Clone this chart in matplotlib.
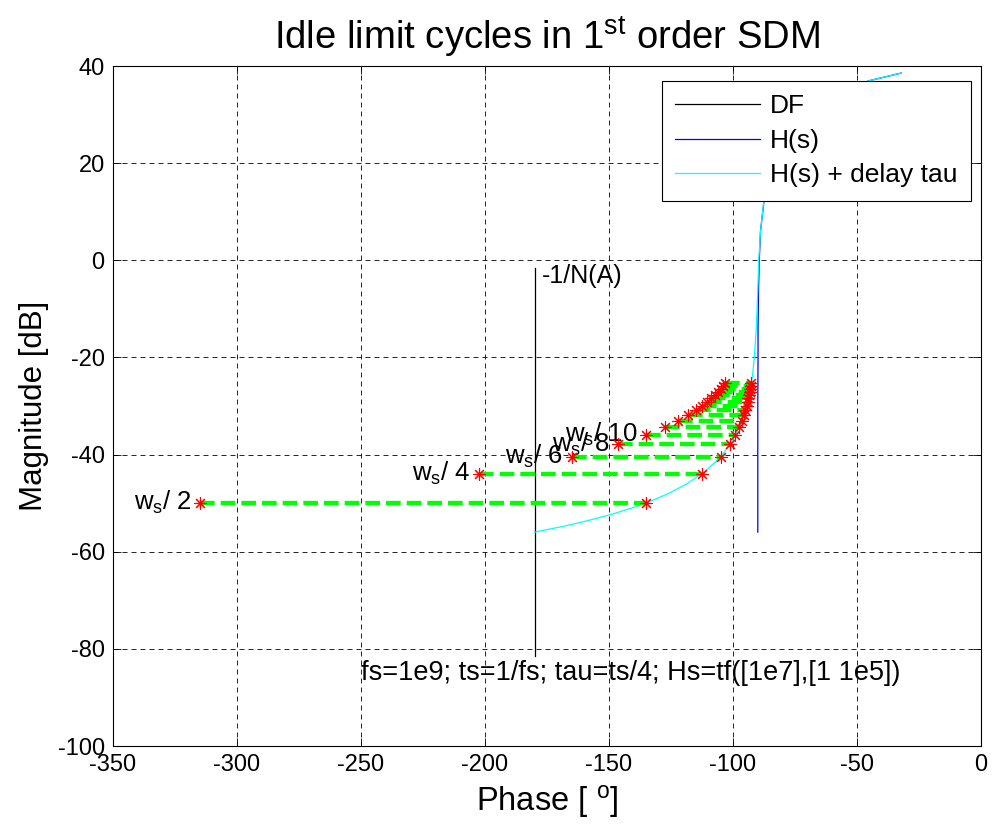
# | Imports |-------------------------------------------------------------------------------------|
import matplotlib
matplotlib.use("Agg")
import matplotlib.pyplot as plt
from matplotlib.axes import Axes
from matplotlib.figure import Figure

# | Fonts |---------------------------------------------------------------------------------------|
plt.rcParams["font.family"] = ["Liberation Sans", "DejaVu Sans"]
plt.rcParams["mathtext.fontset"] = "custom"
plt.rcParams["mathtext.rm"] = "Liberation Sans"
plt.rcParams["mathtext.it"] = "Liberation Sans"
plt.rcParams["mathtext.bf"] = "Liberation Sans:bold"
plt.rcParams["axes.unicode_minus"] = False

# | Data |----------------------------------------------------------------------------------------|
# H(s) = 1e7 / (s + 1e5)  -> (phase [deg], magnitude [dB])
hs_phase: list[float] = [-32.2, -45.0, -56.3, -63.4, -71.6, -78.7, -84.3, -87.1, -88.9,
                         -89.4, -89.7, -89.9, -89.9, -90.0, -90.0, -90.0]
hs_mag: list[float] = [38.55, 36.99, 34.88, 33.01, 30.0, 25.85, 19.96, 13.97, 6.02,
                       0.0, -6.02, -13.98, -20.0, -30.0, -45.0, -55.96]

# H(s) + delay tau
hd_phase: list[float] = [-32.2, -45.0, -56.3, -63.4, -71.6, -78.7, -84.3, -87.2, -88.9, -89.6,
                         -90.0, -90.6, -91.4, -92.1, -92.8, -94.3, -95.7, -97.2, -100.0, -102.2,
                         -104.3, -107.2, -111.5, -118.6, -125.8, -133.0, -140.1, -147.3, -154.5,
                         -161.6, -168.8, -180.0]
hd_mag: list[float] = [38.55, 36.99, 34.88, 33.01, 30.0, 25.85, 19.96, 13.97, 6.02, 0.0,
                       -6.02, -13.98, -20.0, -23.52, -26.02, -29.54, -32.04, -33.98, -36.90, -38.59,
                       -40.0, -41.58, -43.52, -46.02, -47.96, -49.54, -50.88, -52.04, -53.06,
                       -53.98, -54.81, -55.96]

# describing function -1/N(A)
df_phase: list[float] = [-180.0, -180.0]
df_mag: list[float] = [-1.5, -81.5]

# limit cycle candidates at ws/N
cycle_n: list[int] = [2, 4, 6, 8, 10, 12, 14, 16, 18, 20, 22, 24, 26, 28, 30, 32, 34]
cycle_left: list[float] = [-315.0, -202.5, -165.0, -146.25, -135.0, -127.5, -122.14, -118.13, -115.0,
                           -112.5, -110.45, -108.75, -107.31, -106.07, -105.0, -104.06, -103.24]
cycle_right: list[float] = [-135.0, -112.5, -105.0, -101.25, -99.0, -97.5, -96.43, -95.63, -95.0,
                            -94.5, -94.09, -93.75, -93.46, -93.21, -93.0, -92.81, -92.65]
cycle_mag: list[float] = [-49.94, -43.92, -40.40, -37.90, -35.96, -34.38, -33.04, -31.88, -30.85,
                          -29.94, -29.11, -28.36, -27.66, -27.02, -26.42, -25.86, -25.33]
label_n: list[int] = [2, 4, 6, 8, 10]

x_ticks: list[int] = [-350, -300, -250, -200, -150, -100, -50, 0]
y_ticks: list[int] = [-100, -80, -60, -40, -20, 0, 20, 40]

# | Plot |----------------------------------------------------------------------------------------|
fig: Figure = plt.figure(figsize=(9.92, 8.34), dpi=100, facecolor="w")
ax: Axes = fig.add_axes([0.1139, 0.1055, 0.875, 0.8153])

ax.plot(df_phase, df_mag, color="k", lw=0.9, label="DF")
ax.plot(hs_phase, hs_mag, color="#0000ff", lw=0.9, label="H(s)")
ax.plot(hd_phase, hd_mag, color="#00ffff", lw=0.9, label="H(s) + delay tau")

for i in range(len(cycle_n)):
    ax.plot([cycle_left[i], cycle_right[i]], [cycle_mag[i], cycle_mag[i]],
            color="#00ff00", lw=3.1, linestyle=(0, (3.4, 1.4)), zorder=3)
    ax.plot([cycle_left[i], cycle_right[i]], [cycle_mag[i], cycle_mag[i]],
            linestyle="none", marker=(8, 2, 0), markersize=9, mew=0.8, color="#ff0000", zorder=4)

# labels overlap each other in the original too
for n in label_n:
    i: int = cycle_n.index(n)
    ax.annotate(f"w$_{{\\rm s}}$/ {n}", (cycle_left[i], cycle_mag[i]), xytext=(-6, -5),
                textcoords="offset points", ha="right", va="baseline", fontsize=18.5)

ax.text(-177.2, -4.7, "-1/N(A)", fontsize=18, va="baseline", ha="left")
ax.text(-250, -86.4, "fs=1e9; ts=1/fs; tau=ts/4; Hs=tf([1e7],[1 1e5])", fontsize=19.5,
        va="baseline", ha="left")

ax.set_xlim(-350, 0)
ax.set_ylim(-100, 40)
ax.set_xticks(x_ticks)
ax.set_yticks(y_ticks)
ax.grid(True, color="k", lw=0.6, linestyle=(0, (6, 4.8)))
ax.tick_params(direction="in", top=True, right=True, length=6, width=0.6, labelsize=17, pad=6)
for s in ax.spines.values():
    s.set_linewidth(0.8)

ax.set_title("Idle limit cycles in 1$^{\\rm st}$ order SDM", fontsize=27.5, pad=12)
ax.set_xlabel("Phase [ $^{\\rm o}$]", fontsize=23.5, labelpad=5)
ax.set_ylabel("Magnitude [dB]", fontsize=22.5, labelpad=6)

leg = ax.legend(loc="upper right", bbox_to_anchor=(0.9885, 0.978), borderaxespad=0, fontsize=19,
                fancybox=False, edgecolor="k", framealpha=1, handlelength=3.2, handletextpad=0.4,
                labelspacing=0.4, borderpad=0.5)
leg.get_frame().set_linewidth(0.8)

fig.savefig("out.png", dpi=100)
